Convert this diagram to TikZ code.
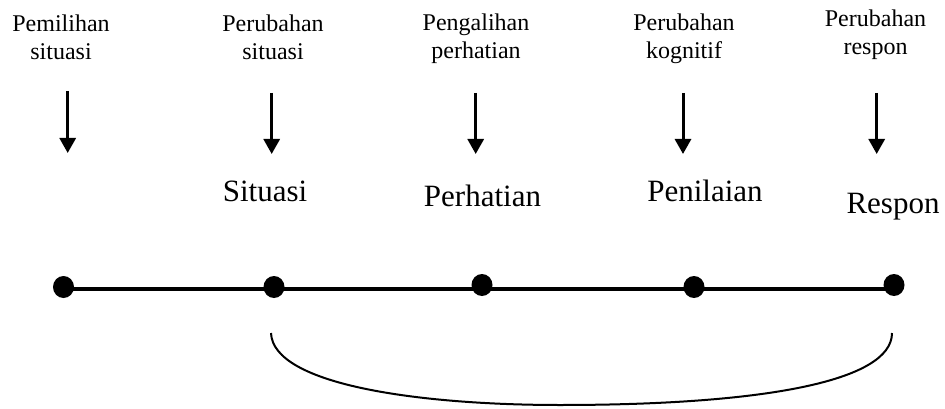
\documentclass[tikz,border=0pt]{standalone}
\usepackage{fontspec}
\setmainfont{Liberation Serif}
\usetikzlibrary{arrows.meta,shapes.geometric}
\begin{document}
\begin{tikzpicture}[x=1pt,y=-1pt,
  toplabel/.style={align=center,inner sep=0pt,anchor=base,font=\fontsize{24}{28}\selectfont},
  midlabel/.style={inner sep=0pt,anchor=base,font=\fontsize{31}{34}\selectfont},
  dot/.style={ellipse,fill=black,minimum width=21pt,minimum height=22pt,inner sep=0pt},
  downarrow/.style={line width=3pt,-{Triangle[width=16pt,length=15pt]}},
  axis/.style={line width=3.5pt},
  bracket/.style={line width=2pt}]
\useasboundingbox (0,0) rectangle (945,409);
% top labels (anchor = baseline of last line)
\node[toplabel] (t1) at (61,60) {Pemilihan\\situasi};
\node[toplabel] (t2) at (273,59.3) {Perubahan\\situasi};
\node[toplabel] (t3) at (476,58.3) {Pengalihan\\perhatian};
\node[toplabel] (t4) at (684,58.3) {Perubahan\\kognitif};
\node[toplabel] (t5) at (875.5,55) {Perubahan\\respon};
% arrows
\coordinate (a1s) at (67.7,91); \coordinate (a1e) at (67.7,153);
\coordinate (a2s) at (271.7,93); \coordinate (a2e) at (271.7,154);
\coordinate (a3s) at (475.7,93); \coordinate (a3e) at (475.7,154);
\coordinate (a4s) at (683,93); \coordinate (a4e) at (683,154);
\coordinate (a5s) at (876.7,93); \coordinate (a5e) at (876.7,154);
\draw[downarrow] (a1s) -- (a1e);
\draw[downarrow] (a2s) -- (a2e);
\draw[downarrow] (a3s) -- (a3e);
\draw[downarrow] (a4s) -- (a4e);
\draw[downarrow] (a5s) -- (a5e);
% middle labels
\node[midlabel] (m2) at (265,201.7) {Situasi};
\node[midlabel] (m3) at (482.5,206) {Perhatian};
\node[midlabel] (m4) at (705,201.7) {Penilaian};
\node[midlabel] (m5) at (893,213.3) {Respon};
% dots and line
\coordinate (l1) at (63.5,289); \coordinate (l5) at (894,289);
\draw[axis] (l1) -- (l5);
\node[dot] (d1) at (63.5,287) {};
\node[dot] (d2) at (274,287) {};
\node[dot] (d3) at (482,285) {};
\node[dot] (d4) at (694,287) {};
\node[dot] (d5) at (894,285) {};
% bracket
\coordinate (c1) at (271,333);
\coordinate (cm) at (560,405);
\coordinate (c2) at (892,333);
\draw[bracket] (c1) .. controls (273,385) and (420,405) .. (cm)
  .. controls (760,405) and (892,382) .. (c2);
\end{tikzpicture}
\end{document}
